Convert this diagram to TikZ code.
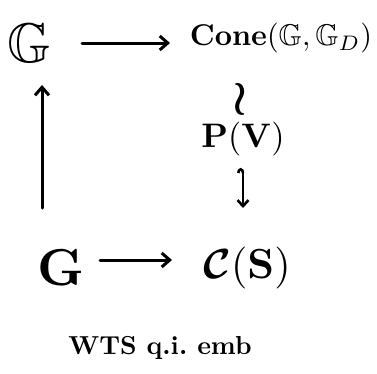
\documentclass[tikz,border=0pt]{standalone}
\usepackage{amsmath,amssymb,bm}
\usetikzlibrary{arrows.meta}
\begin{document}
\begin{tikzpicture}[x=1pt,y=-1pt,
  every node/.style={inner sep=0pt,outer sep=0pt,text=black},
  hand/.style={line width=3pt,line cap=round,-{Straight Barb[length=8pt,width=14pt,line width=3pt]}},
  hookarr/.style={line width=2.6pt,line cap=round,{Hooks[left,length=5pt,width=12pt]}-{Straight Barb[length=6pt,width=11pt,line width=2.6pt]}}]
\useasboundingbox (0,0) rectangle (377,373);
\fill[white] (0,0) rectangle (377,373);
\node[scale=5.6] (bbG) at (29,43) {$\mathbb{G}$};
\node[scale=3.0] (cone) at (281,38) {$\mathbf{Cone}(\mathbb{G},\mathbb{G}_D)$};
\node[scale=4.8] (iso) at (240,99) {$\bm{\wr}$};
\node[scale=3.4] (PV) at (243,139) {$\mathbf{P(V)}$};
\node[scale=5.2] (G) at (61,268) {$\mathbf{G}$};
\node[scale=4.2] (CS) at (247,268) {$\bm{\mathcal{C}}\mathbf{(S)}$};
\node[scale=2.6,font=\bfseries] (wts) at (160,348) {WTS q.i.\ emb};
\coordinate (ta) at (82,43);
\coordinate (tb) at (170,43);
\coordinate (ba) at (100,260);
\coordinate (bb) at (172,260);
\coordinate (hs) at (243,168);
\coordinate (he) at (243,208);
\coordinate (ls) at (42,208);
\coordinate (le) at (42,85);
\draw[hand] (ta) -- (tb);
\draw[hand] (ba) -- (bb);
\draw[hand] (ls) -- (le);
\draw[hookarr] (hs) -- (he);
\end{tikzpicture}
\end{document}
